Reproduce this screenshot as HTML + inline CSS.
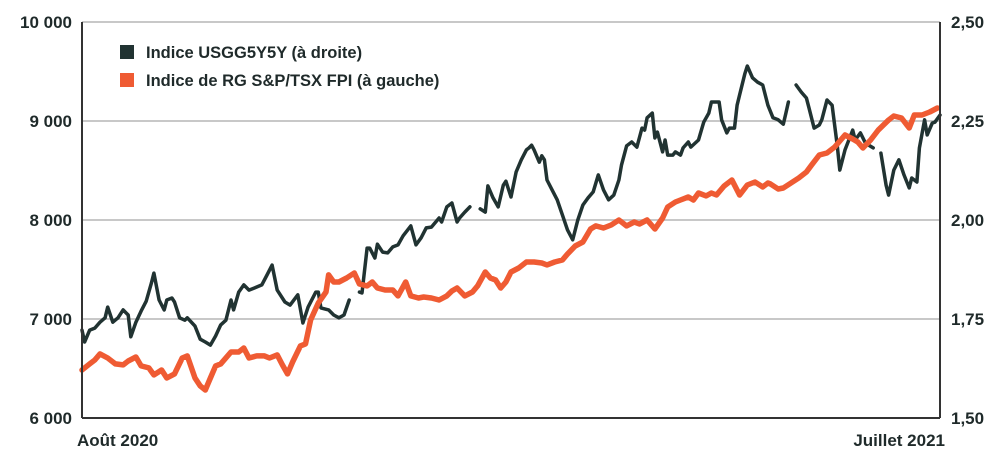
<!DOCTYPE html>
<html><head><meta charset="utf-8"><style>
body{margin:0;background:#fff;width:1000px;height:455px;overflow:hidden}
svg text{font-family:"Liberation Sans",sans-serif;font-weight:bold;fill:#1f2a2a}
</style></head><body>
<svg id="c" width="1000" height="455" viewBox="0 0 1000 455"></svg>
<script>
const leftTicks=[6000,7000,8000,9000,10000];
const leftTickLabels=["6 000","7 000","8 000","9 000","10 000"];
const rightTicks=[1.5,1.75,2.0,2.25,2.5];
const rightTickLabels=["1,50","1,75","2,00","2,25","2,50"];
const xLabels=["Août 2020","Juillet 2021"];
const seriesNames=["Indice USGG5Y5Y (à droite)","Indice de RG S&P/TSX FPI (à gauche)"];
const dayDomain=[0,334];
const reitDays=[0,3,5,7,10,13,16,18,21,23,26,28,31,33,36,39,41,44,46,48,50,52,54,58,61,63,65,68,71,73,76,78,80,82,85,87,89,92,95,96,98,100,103,106,108,111,113,115,118,121,123,126,128,131,133,136,139,142,144,146,149,152,154,157,159,161,163,165,167,170,173,176,179,181,184,187,189,192,195,198,200,203,206,209,212,215,217,220,223,226,228,231,233,236,238,240,243,245,247,250,253,256,259,262,265,267,268,271,273,276,279,282,284,287,290,293,297,300,302,304,307,310,314,316,319,322,324,327,330,333];
const reitValues=[6485,6546,6586,6647,6606,6546,6536,6576,6616,6526,6506,6435,6485,6404,6445,6606,6627,6404,6324,6283,6404,6526,6546,6667,6667,6707,6606,6627,6627,6606,6637,6536,6445,6566,6728,6748,6990,7162,7273,7445,7374,7374,7414,7465,7354,7334,7374,7313,7293,7293,7233,7374,7233,7212,7222,7212,7192,7233,7283,7313,7233,7273,7334,7475,7414,7394,7313,7374,7475,7515,7576,7576,7566,7546,7576,7596,7657,7737,7778,7909,7940,7919,7950,8000,7940,7980,7960,8000,7909,8020,8131,8182,8202,8232,8202,8273,8243,8273,8253,8344,8404,8253,8354,8384,8333,8374,8364,8313,8323,8374,8424,8485,8556,8657,8677,8737,8859,8818,8788,8727,8808,8909,9010,9051,9030,8929,9061,9061,9091,9131];
const rateDays=[0,1,3,5,7,9,10,12,14,16,18,19,21,23,25,27,28,30,32,33,35,36,38,40,41,44,46,48,50,52,54,56,58,59,61,63,65,67,70,72,74,76,79,81,84,86,88,91,92,93,96,98,100,102,104,106,108,109,111,112,114,115,117,119,121,123,125,128,130,132,134,136,139,140,142,144,146,147,149,151,153,155,157,158,160,162,164,165,167,169,171,173,174,175,176,178,179,180,181,183,185,187,189,191,193,195,197,199,201,203,205,207,209,210,212,214,216,218,219,220,222,223,224,226,227,228,230,231,233,234,236,237,240,242,244,245,248,249,251,252,254,255,256,258,259,261,263,265,267,269,271,273,274,275,276,278,280,282,283,285,287,288,290,292,294,295,297,300,301,303,305,308,309,311,313,314,316,318,320,322,323,325,326,328,329,331,332,334];
const rateValues=[1.722,1.692,1.722,1.727,1.742,1.753,1.780,1.742,1.753,1.773,1.760,1.705,1.742,1.770,1.795,1.841,1.866,1.798,1.773,1.798,1.803,1.793,1.753,1.747,1.753,1.732,1.699,1.692,1.684,1.707,1.735,1.747,1.798,1.773,1.818,1.836,1.823,1.828,1.836,1.861,1.886,1.823,1.793,1.785,1.811,1.740,1.780,1.818,1.818,1.778,1.773,1.760,1.753,1.760,1.798,null,1.818,1.816,1.929,1.929,1.904,1.939,1.919,1.917,1.932,1.937,1.960,1.985,1.937,1.955,1.980,1.982,2.005,1.995,2.033,2.043,1.995,2.005,2.020,2.033,null,2.028,2.020,2.086,2.056,2.033,2.088,2.098,2.058,2.121,2.152,2.177,2.182,2.189,2.177,2.146,2.162,2.152,2.101,2.076,2.051,2.013,1.975,1.950,2.000,2.038,2.056,2.071,2.114,2.076,2.051,2.063,2.101,2.139,2.187,2.197,2.184,2.232,2.227,2.258,2.270,2.207,2.222,2.172,2.202,2.164,2.164,2.172,2.164,2.182,2.197,2.184,2.202,2.247,2.270,2.298,2.298,2.253,2.220,2.232,2.232,2.290,2.316,2.369,2.389,2.359,2.348,2.341,2.290,2.258,2.253,2.242,2.270,2.298,null,2.341,2.323,2.308,2.283,2.232,2.240,2.253,2.303,2.290,2.189,2.126,2.177,2.227,2.202,2.220,2.194,2.182,null,2.169,2.088,2.063,2.126,2.152,2.114,2.081,2.106,2.096,2.182,2.253,2.215,2.245,2.247,2.265];

const X0=82,X1=940,Y0=418,Y1=22;
const yL=v=>Y0-(v-6000)/4000*(Y0-Y1);
const yR=v=>Y0-(v-1.5)/1.0*(Y0-Y1);
const xD=d=>X0+(d-dayDomain[0])/(dayDomain[1]-dayDomain[0])*(X1-X0);
const svg=document.getElementById('c');
const NS='http://www.w3.org/2000/svg';
function mk(t,a){const e=document.createElementNS(NS,t);for(const k in a)e.setAttribute(k,a[k]);svg.appendChild(e);return e;}

leftTicks.forEach((t,i)=>{
  const y=yL(t);
  if(i>0){const g=mk('line',{x1:X0,x2:X1,y1:y,y2:y,stroke:'#c8c8c8','stroke-width':2});
  
  }
  const l=mk('text',{x:72,y:y+6,'text-anchor':'end','font-size':17});
  l.textContent=leftTickLabels[i];
  
  
});
rightTicks.forEach((t,i)=>{
  const l=mk('text',{x:951,y:yR(t)+6,'font-size':17});
  l.textContent=rightTickLabels[i];
  
  
});
function path(days,vals,fy,color,w,name){
  let d='',pen=false;
  vals.forEach((v,i)=>{
    if(v===null){pen=false;return;}
    d+=(pen?'L':'M')+xD(days[i]).toFixed(1)+' '+fy(v).toFixed(1);pen=true;
  });
  const p=mk('path',{d:d,fill:'none',stroke:color,'stroke-width':w,'stroke-linejoin':'round','stroke-linecap':'round'});
  
  
}
path(rateDays,rateValues,yR,'#213332',3.5,'usgg5y5y-line');
path(reitDays,reitValues,yL,'#ef5b33',5.5,'reit-index-line');

const axes=[[X0,Y1,X0,Y0,'left-axis'],[X1,Y1,X1,Y0,'right-axis'],[X0,Y0,X1,Y0,'x-axis']];
axes.forEach(a=>{const e=mk('line',{x1:a[0],y1:a[1],x2:a[2],y2:a[3],stroke:'#333','stroke-width':2});

});

const xl0=mk('text',{x:77,y:446,'font-size':17});xl0.textContent=xLabels[0];


const xl1=mk('text',{x:945,y:446,'font-size':17,'text-anchor':'end'});xl1.textContent=xLabels[1];



const colors=['#213332','#ef5b33'];
seriesNames.forEach((n,i)=>{
  const y=52+i*28;
  const r=mk('rect',{x:120,y:y-7,width:14,height:14,fill:colors[i]});
  
  
  const t=mk('text',{x:146,y:y+6,'font-size':16.5});t.textContent=n;
  
  
});
</script>
</body></html>
